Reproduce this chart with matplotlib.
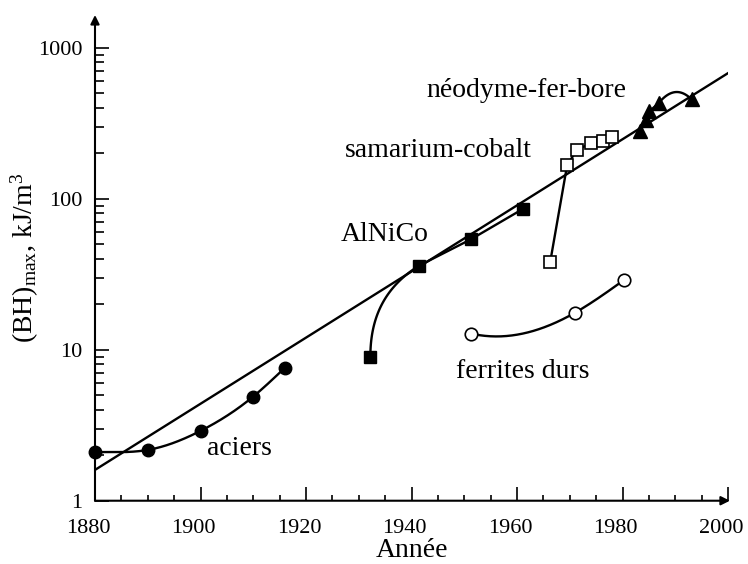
import numpy as np
import matplotlib
matplotlib.use("Agg")
import matplotlib.pyplot as plt
from matplotlib.transforms import ScaledTranslation

plt.rcParams['font.family'] = ['Liberation Serif', 'DejaVu Serif']
plt.rcParams['mathtext.fontset'] = 'custom'
plt.rcParams['mathtext.rm'] = 'Liberation Serif'
plt.rcParams['mathtext.it'] = 'Liberation Serif:italic'

# ---------------- data ----------------
trend_years = [1880, 2000]
trend_vals = [1.6, 680]

aciers_years = [1880, 1890, 1900, 1910, 1916]
aciers_vals = [2.1, 2.17, 2.9, 4.9, 7.6]

alnico_years = [1932.2, 1941.4, 1951.3, 1961.2]
alnico_vals = [9.0, 36.0, 54.0, 86.0]

smco_years = [1966.3, 1969.5, 1971.4, 1974.1, 1976.3, 1978.0]
smco_vals = [38.3, 167, 212, 233, 242, 255]

ndfeb_years = [1983.4, 1984.4, 1985.1, 1986.9, 1993.1]
ndfeb_vals = [280, 332, 380, 432, 455]

ferrites_years = [1951.3, 1971.0, 1980.3]
ferrites_vals = [12.8, 17.6, 29.0]

labels = ["néodyme-fer-bore", "samarium-cobalt", "AlNiCo", "aciers", "ferrites durs"]
xticks = [1880, 1900, 1920, 1940, 1960, 1980, 2000]
yticks = [1, 10, 100, 1000]


# ---------------- helpers ----------------
def spline(x, y, d0=None, dn=None, n=200):
    """Cubic spline in log10 space (natural or clamped ends)."""
    x = np.asarray(x, float)
    y = np.log10(np.asarray(y, float))
    N = len(x)
    h = np.diff(x)
    A = np.zeros((N, N))
    b = np.zeros(N)
    if d0 is None:
        A[0, 0] = 1
    else:
        A[0, 0] = 2 * h[0]; A[0, 1] = h[0]
        b[0] = 6 * ((y[1] - y[0]) / h[0] - d0)
    if dn is None:
        A[-1, -1] = 1
    else:
        A[-1, -2] = h[-1]; A[-1, -1] = 2 * h[-1]
        b[-1] = 6 * (dn - (y[-1] - y[-2]) / h[-1])
    for i in range(1, N - 1):
        A[i, i - 1] = h[i - 1]
        A[i, i] = 2 * (h[i - 1] + h[i])
        A[i, i + 1] = h[i]
        b[i] = 6 * ((y[i + 1] - y[i]) / h[i] - (y[i] - y[i - 1]) / h[i - 1])
    M = np.linalg.solve(A, b)
    xs = np.linspace(x[0], x[-1], n)
    idx = np.clip(np.searchsorted(x, xs) - 1, 0, N - 2)
    x0, x1 = x[idx], x[idx + 1]
    hh = x1 - x0
    a = (x1 - xs) / hh
    c = (xs - x0) / hh
    ys = (a * y[idx] + c * y[idx + 1]
          + ((a ** 3 - a) * M[idx] + (c ** 3 - c) * M[idx + 1]) * hh ** 2 / 6)
    return xs, 10 ** ys


def bezier_cubic(p0, p3, c1f, c2f, n=100):
    """Cubic Bezier between two data points in (year, log10) space."""
    x0, y0 = p0[0], np.log10(p0[1])
    x3, y3 = p3[0], np.log10(p3[1])
    dx, dy = x3 - x0, y3 - y0
    c1 = (x0 + c1f[0] * dx, y0 + c1f[1] * dy)
    c2 = (x0 + c2f[0] * dx, y0 + c2f[1] * dy)
    t = np.linspace(0, 1, n)
    xs = (1 - t) ** 3 * x0 + 3 * (1 - t) ** 2 * t * c1[0] + 3 * (1 - t) * t ** 2 * c2[0] + t ** 3 * x3
    ys = (1 - t) ** 3 * y0 + 3 * (1 - t) ** 2 * t * c1[1] + 3 * (1 - t) * t ** 2 * c2[1] + t ** 3 * y3
    return xs, 10 ** ys


def bezier_arc(p0, p2, bump, n=100):
    """Quadratic arc between two data points, raised by `bump` decades."""
    x0, y0 = p0[0], np.log10(p0[1])
    x2, y2 = p2[0], np.log10(p2[1])
    cx, cy = (x0 + x2) / 2, (y0 + y2) / 2 + bump
    t = np.linspace(0, 1, n)
    xs = (1 - t) ** 2 * x0 + 2 * (1 - t) * t * cx + t ** 2 * x2
    ys = (1 - t) ** 2 * y0 + 2 * (1 - t) * t * cy + t ** 2 * y2
    return xs, 10 ** ys


# ---------------- figure ----------------
fig = plt.figure(figsize=(7.48, 5.64), dpi=100)
ax = fig.add_axes([0.127, 0.1122, 0.8463, 0.8612])
ax.set_yscale('log')
ax.set_xlim(1880, 2000)
ax.set_ylim(1, 1650)

lw = 1.7
col = 'black'

# trend line
ax.plot(trend_years, trend_vals, color=col, lw=lw, zorder=2)

# aciers
xs, ys = spline(aciers_years, aciers_vals, d0=0.0)
ax.plot(xs, ys, color=col, lw=lw, zorder=2)
ax.plot(aciers_years, aciers_vals, 'o', color=col, ms=9, zorder=4, clip_on=False)

# AlNiCo
xs, ys = bezier_cubic((alnico_years[0], alnico_vals[0]), (alnico_years[1], alnico_vals[1]),
                      (0.0, 0.4), (0.25, 0.75))
ax.plot(xs, ys, color=col, lw=lw, zorder=2)
ax.plot(alnico_years[1:], alnico_vals[1:], color=col, lw=lw, zorder=2)
ax.plot(alnico_years, alnico_vals, 's', color=col, ms=8.5, zorder=4)

# samarium-cobalt
ax.plot(smco_years, smco_vals, color=col, lw=lw, zorder=2)
ax.plot(smco_years, smco_vals, 's', mfc='white', mec=col, mew=1.2, ms=9, zorder=4)

# neodyme-fer-bore
ax.plot(ndfeb_years[:4], ndfeb_vals[:4], color=col, lw=lw, zorder=2)
xs, ys = bezier_arc((ndfeb_years[3], ndfeb_vals[3]), (ndfeb_years[4], ndfeb_vals[4]), 0.12)
ax.plot(xs, ys, color=col, lw=lw, zorder=2)
ax.plot(ndfeb_years, ndfeb_vals, '^', color=col, ms=10, zorder=4)

# ferrites durs
xs, ys = spline(ferrites_years, ferrites_vals, d0=-0.008)
ax.plot(xs, ys, color=col, lw=lw, zorder=2)
ax.plot(ferrites_years, ferrites_vals, 'o', mfc='white', mec=col, mew=1.2, ms=9, zorder=4)

# text labels
fs_lab = 20
ax.text(1961.7, 473, labels[0], fontsize=fs_lab, ha='center', va='baseline')
ax.text(1945.1, 190, labels[1], fontsize=fs_lab, ha='center', va='baseline')
ax.text(1934.9, 52.7, labels[2], fontsize=fs_lab, ha='center', va='baseline')
ax.text(1907.3, 2.01, labels[3], fontsize=fs_lab, ha='center', va='baseline')
ax.text(1961.0, 6.47, labels[4], fontsize=fs_lab, ha='center', va='baseline')

# axes styling
for s in ['top', 'right', 'left', 'bottom']:
    ax.spines[s].set_visible(False)
ax.annotate('', xy=(1.003, 0), xytext=(0, 0), xycoords='axes fraction',
            arrowprops=dict(arrowstyle='-|>', lw=1.5, color=col, mutation_scale=13,
                            shrinkA=0, shrinkB=0))
ax.annotate('', xy=(0, 1.0), xytext=(0, 0), xycoords='axes fraction',
            arrowprops=dict(arrowstyle='-|>', lw=1.5, color=col, mutation_scale=13,
                            shrinkA=0, shrinkB=0))

ax.set_xticks(xticks)
ax.set_xticks(np.arange(1880, 2000, 5), minor=True)
ax.set_xticklabels([str(t) for t in xticks])
ax.set_yticks(yticks)
ax.set_yticklabels([str(t) for t in yticks])
ax.yaxis.set_minor_locator(matplotlib.ticker.LogLocator(base=10, subs=np.arange(2, 10)))
ax.yaxis.set_minor_formatter(matplotlib.ticker.NullFormatter())

ax.tick_params(axis='x', which='major', direction='in', length=10, width=1.2, pad=13,
               labelsize=16, top=False)
ax.tick_params(axis='x', which='minor', direction='in', length=4, width=1.2, top=False)
ax.tick_params(axis='y', which='major', direction='in', length=10, width=1.2, pad=9,
               labelsize=16, right=False)
ax.tick_params(axis='y', which='minor', direction='in', length=6.5, width=1.2, right=False)

# x tick labels sit slightly left of their ticks in the original
shift = ScaledTranslation(-5 / 72, 0, fig.dpi_scale_trans)
for lab in ax.get_xticklabels():
    lab.set_transform(lab.get_transform() + shift)

ax.set_xlabel('Année', fontsize=20, labelpad=0)
ax.set_ylabel(r'$\mathrm{(BH)_{max}}$, kJ/m$^3$', fontsize=20)
ax.yaxis.set_label_coords(-0.085, 0.5)

fig.savefig('out.png', dpi=100)
